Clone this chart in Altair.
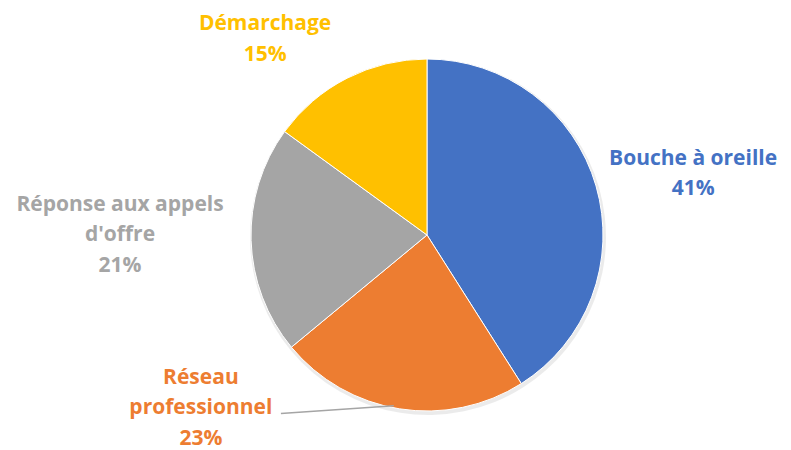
import math
import altair as alt
import pandas as pd

# ---- data ----
categories = ["Bouche à oreille", "Réseau professionnel", "Réponse aux appels d'offre", "Démarchage"]
values = [41, 23, 21, 15]
label_lines = [["Bouche à oreille"], ["Réseau", "professionnel"], ["Réponse aux appels", "d'offre"], ["Démarchage"]]
colors = ["#4472C4", "#ED7D31", "#A5A5A5", "#FFC000"]

# ---- layout (not data) ----
W, H = 775, 442
CX, CY, R = 419, 227, 176
LH = 30.5
label_angle_shift = [3.3, 43.5, 1.8, -12.6]   # degrees from slice mid-angle
label_radius = [273, 285, 307, 254]

total = sum(values)
cum = 0
rows = []
for i, (c, v) in enumerate(zip(categories, values)):
    mid = (cum + v / 2) / total * 360
    cum += v
    a = math.radians(mid + label_angle_shift[i])
    n = len(label_lines[i]) + 1
    lx = CX + label_radius[i] * math.sin(a)
    ly = CY - label_radius[i] * math.cos(a) - (n - 1) * LH / 2
    text = "\n".join(label_lines[i] + [f"{v}%"])
    rows.append(dict(cat=c, value=v, idx=i, lx=lx, ly=ly, label=text, mid=mid, n=n))
df = pd.DataFrame(rows)

color_scale = alt.Scale(domain=categories, range=colors)

pie = alt.Chart(df).mark_arc(radius=R, stroke="white", strokeWidth=1).encode(
    theta=alt.Theta("value:Q", stack=True),
    order=alt.Order("idx:Q"),
    color=alt.Color("cat:N", scale=color_scale, legend=None),
    x=alt.value(CX),
    y=alt.value(CY),
)

shadow = alt.Chart(df).mark_arc(radius=R + 2, color="#000000", opacity=0.08).encode(
    theta=alt.Theta("value:Q", stack=True),
    order=alt.Order("idx:Q"),
    x=alt.value(CX + 1),
    y=alt.value(CY + 2),
)

labels = alt.Chart(df).mark_text(
    font="Open Sans", fontWeight="bold", fontSize=21, lineBreak="\n", lineHeight=LH,
    align="center", baseline="middle",
).encode(
    x=alt.X("lx:Q", scale=None),
    y=alt.Y("ly:Q", scale=None),
    text="label:N",
    color=alt.Color("cat:N", scale=color_scale, legend=None),
)

# leader line for Réseau professionnel
r_row = rows[1]
a0 = math.radians(r_row["mid"] + 2)
lead = pd.DataFrame([dict(
    x=CX + (R - 2) * math.sin(a0), y=CY - (R - 2) * math.cos(a0),
    x2=r_row["lx"] + 80, y2=r_row["ly"] + LH + 5,
)])
leader = alt.Chart(lead).mark_rule(color="#A5A5A5", strokeWidth=1.5).encode(
    x=alt.X("x:Q", scale=None), y=alt.Y("y:Q", scale=None),
    x2="x2:Q", y2="y2:Q",
)

chart = alt.layer(shadow, pie, leader, labels).properties(
    width=W, height=H, padding=0, autosize=alt.AutoSizeParams(type="none"),
).configure_view(stroke=None)

chart.save("out.html", embed_options={"renderer": "svg", "actions": False})
